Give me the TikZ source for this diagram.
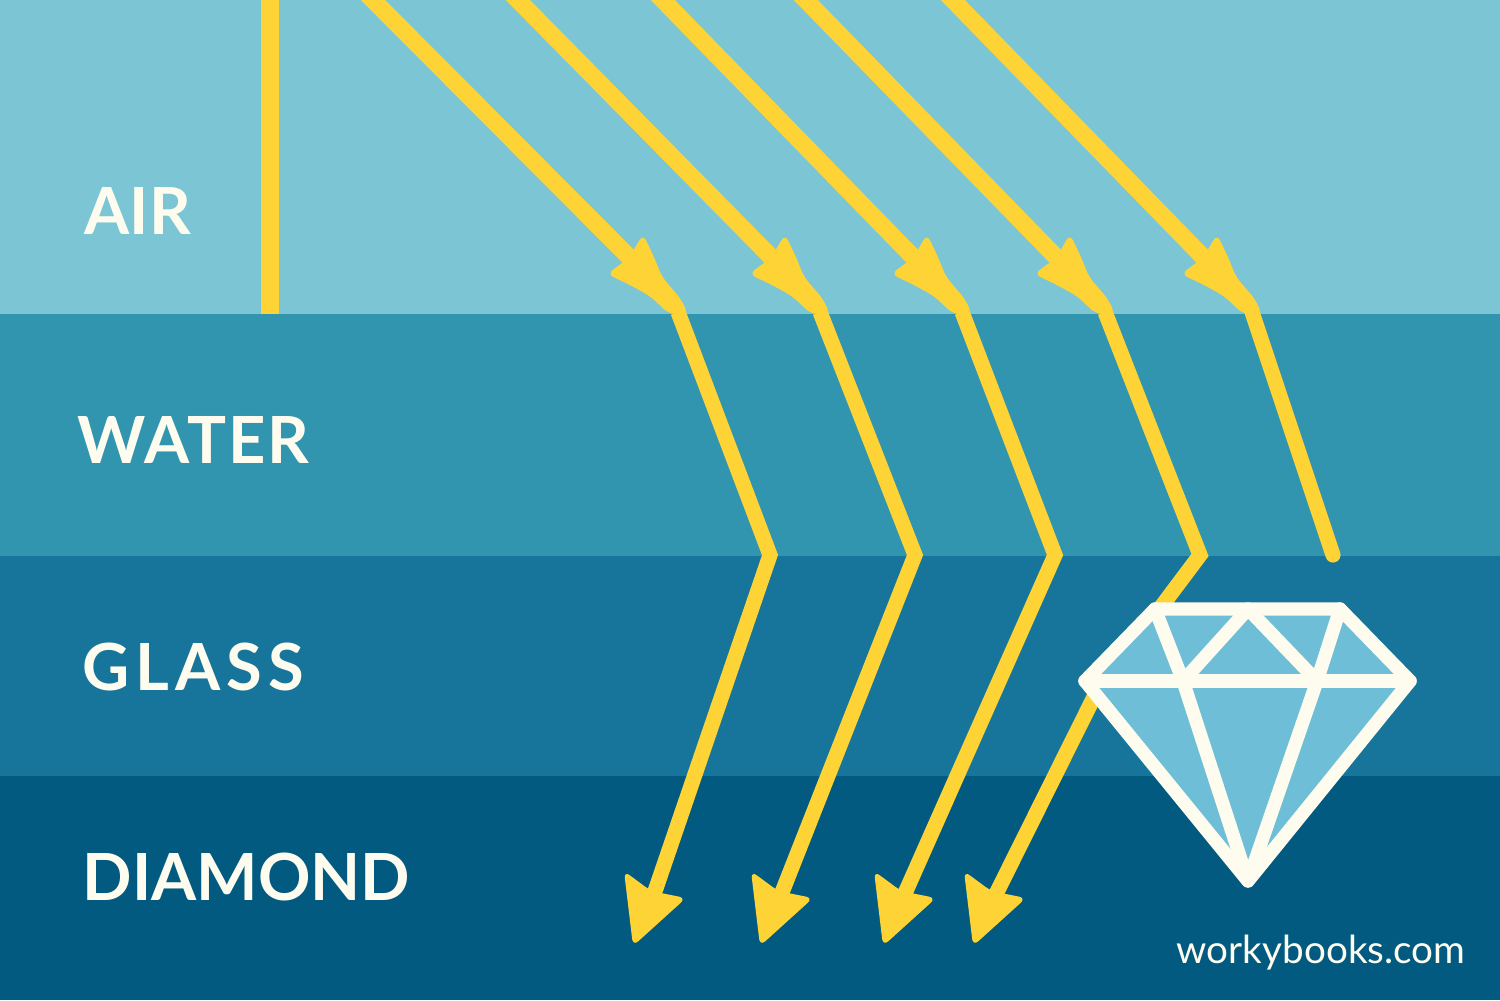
\documentclass[tikz,border=0pt]{standalone}
\usepackage{fontspec}
\usepackage{xcolor}
\setmainfont{Lato}
\usetikzlibrary{positioning}
\definecolor{airblue}{HTML}{7CC5D5}
\definecolor{waterblue}{HTML}{3195B0}
\definecolor{glassblue}{HTML}{17759B}
\definecolor{diamondblue}{HTML}{025A80}
\definecolor{gemblue}{HTML}{6FBED7}
\definecolor{gemwhite}{HTML}{FDFCEE}
\definecolor{rayyellow}{HTML}{FDD335}
\tikzset{
    band/.style={draw=none},
    medium/.style={text=gemwhite, font=\fontsize{18.5}{20}\selectfont\bfseries, anchor=west, inner sep=0pt},
    ray/.style={draw=rayyellow, line width=4.3pt, line join=miter},
    raytop/.style={draw=rayyellow, line width=4.9pt},
    rayhead/.style={fill=rayyellow, rounded corners=2pt},
    gemline/.style={draw=gemwhite, line width=3.8pt, line join=round, line cap=round}
}
% midway head, placed from the bend at the air/water boundary
\newcommand{\midhead}[1]{
    \fill[rayhead] (#1-35,234) -- (#1-49,258) -- (#1-71,274) -- (#1-48,285) -- (#1-28,296) -- (#1-9,314) -- (#1+10,314) -- (#1+3,299) -- (#1-16,277) -- (#1-24,257) -- cycle;
}
% final head, placed from its tip
\newcommand{\bottomhead}[1]{
    \fill[rayhead] (#1-9,871) -- (#1+18,891) -- (#1+53,898) -- (#1,946) -- cycle;
}

\begin{document}
\begin{tikzpicture}[x=0.1mm, y=-0.1mm]
    \useasboundingbox (0,0) rectangle (1500,1000);

    % Layers
    \fill[band, airblue] (0,0) rectangle (1500,314);
    \fill[band, waterblue] (0,314) rectangle (1500,556);
    \fill[band, glassblue] (0,556) rectangle (1500,776);
    \fill[band, diamondblue] (0,776) rectangle (1500,1000);

    \node[medium] (air) at (84,211) {AIR};
    \node[medium] (water) at (77,440) {\addfontfeature{LetterSpace=3}WATER};
    \node[medium] (glass) at (82,667) {\addfontfeature{LetterSpace=9}GLASS};
    \node[medium] (diamond) at (82,877) {DIAMOND};

    % Normal
    \draw[draw=rayyellow, line width=5.1pt] (270,0) -- (270,314);

    % Rays that reach the bottom
    \foreach \sx/\mx/\gx/\ex in {365/678/770/652, 510/820/915/779, 655/962/1055/902} {
        \draw[raytop] (\sx,-8) -- (\mx-48,258);
        \draw[ray] (\mx,312) -- (\gx,555) -- (\ex,900);
        \midhead{\mx}
    }
    \bottomhead{633}
    \bottomhead{760}
    \bottomhead{883}

    % Ray behind the gem
    \draw[raytop] (798,-8) -- (1057,258);
    \draw[ray] (1105,312) -- (1200,555) -- (1095,695) -- (993,900);
    \midhead{1105}
    \bottomhead{973}

    % Ray that stops above the gem
    \draw[raytop] (945,-8) -- (1204,258);
    \draw[ray, line cap=round] (1252,312) -- (1333,555);
    \midhead{1252}

    % Gem
    \fill[gemblue] (1155,609) -- (1340,609) -- (1410,681) -- (1248,881) -- (1085,681) -- cycle;
    \draw[gemline] (1155,609) -- (1340,609) -- (1410,681) -- (1248,881) -- (1085,681) -- cycle;
    \draw[gemline] (1085,681) -- (1410,681);
    \draw[gemline] (1155,609) -- (1183,681) -- (1248,609) -- (1317,681) -- (1340,609);
    \draw[gemline] (1183,681) -- (1248,881) -- (1317,681);

    \node[text=gemwhite, font=\fontsize{11}{13}\selectfont, anchor=east, inner sep=0pt] (site) at (1466,953) {workybooks.com};
\end{tikzpicture}
\end{document}
